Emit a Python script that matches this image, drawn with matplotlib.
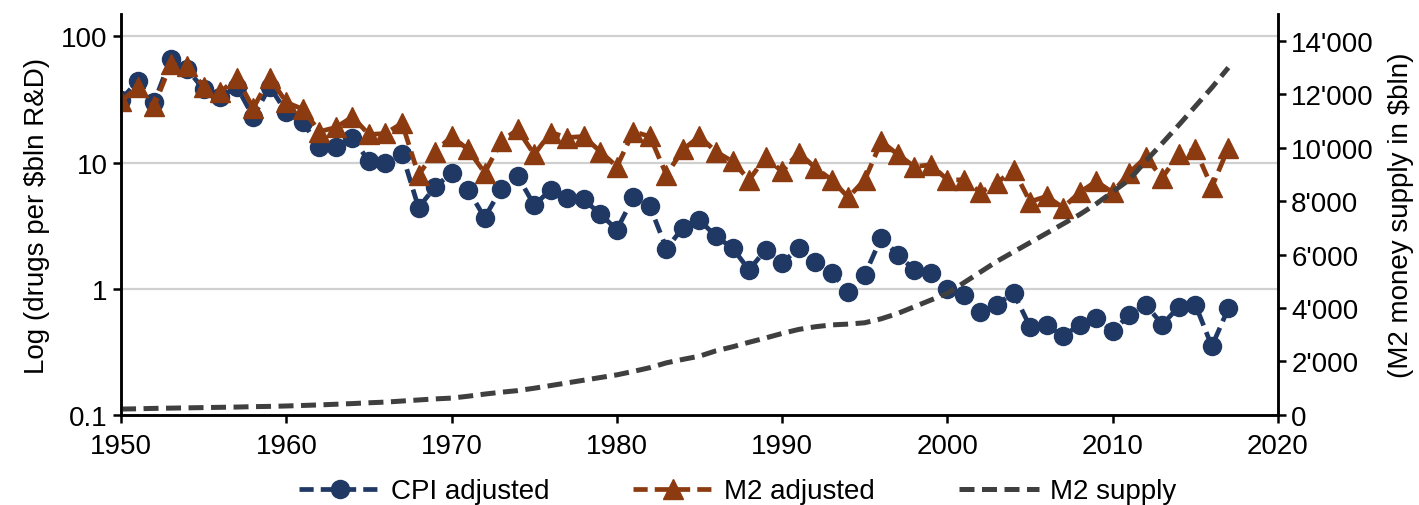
import matplotlib
matplotlib.use("Agg")
import matplotlib.pyplot as plt
from matplotlib.ticker import FuncFormatter, FixedLocator, NullLocator

plt.rcParams['font.family'] = ['Liberation Sans', 'DejaVu Sans']

years = list(range(1950, 2018))

cpi_adjusted = [31.6, 44, 30, 66, 55, 38, 33, 40, 23, 40,
                25, 21, 13.2, 13.4, 15.8, 10.2, 10, 11.8, 4.4, 6.4,
                8.3, 6.1, 3.66, 6.2, 7.8, 4.6, 6.1, 5.2, 5.1, 3.9,
                2.94, 5.3, 4.5, 2.08, 3.05, 3.5, 2.6, 2.1, 1.41, 2.04,
                1.6, 2.1, 1.64, 1.34, 0.95, 1.29, 2.54, 1.86, 1.41, 1.34,
                1.0, 0.9, 0.66, 0.75, 0.93, 0.5, 0.52, 0.42, 0.52, 0.59,
                0.46, 0.62, 0.75, 0.52, 0.72, 0.75, 0.35, 0.7]

m2_adjusted = [30.5, 40, 28, 60, 58, 40, 36, 47, 27, 47,
               30, 26.5, 17.6, 19, 23, 16.7, 17, 20.5, 8.0, 12.2,
               16.1, 12.7, 8.3, 14.7, 18.3, 11.6, 17.3, 15.8, 16.1, 12.2,
               9.3, 17.6, 16.1, 8.0, 12.7, 16.1, 12.2, 10.2, 7.3, 11,
               8.5, 12, 9.1, 7.3, 5.3, 7.3, 14.7, 11.6, 9.3, 9.6,
               7.3, 7.3, 5.8, 6.9, 8.8, 4.9, 5.4, 4.4, 5.8, 7.1,
               5.8, 8.3, 11, 7.6, 11.6, 12.7, 6.4, 13.1]

m2_supply = [220, 230, 245, 255, 265, 275, 285, 295, 310, 320,
             335, 355, 375, 400, 425, 455, 480, 520, 560, 600,
             630, 700, 780, 850, 910, 1000, 1100, 1200, 1300, 1400,
             1500, 1630, 1770, 1950, 2080, 2200, 2400, 2550, 2720, 2880,
             3050, 3200, 3300, 3370, 3400, 3450, 3600, 3800, 4050, 4300,
             4550, 4950, 5350, 5750, 6100, 6450, 6800, 7150, 7500, 7900,
             8350, 8800, 9500, 10170, 10850, 11550, 12250, 13000]

x_ticks = [1950, 1960, 1970, 1980, 1990, 2000, 2010, 2020]
left_ticks = [0.1, 1, 10, 100]
left_tick_labels = ['0.1', '1', '10', '100']
right_ticks = [0, 2000, 4000, 6000, 8000, 10000, 12000, 14000]

blue = '#1f3864'
brown = '#8c3a10'
grey = '#3f3f3f'
FS = 20

fig = plt.figure(figsize=(14.19, 5.06), dpi=100)
ax = fig.add_axes([0.0853, 0.178, 0.8153, 0.792])
ax2 = ax.twinx()

ax.set_yscale('log')
ax.set_ylim(0.1, 150)
ax.set_xlim(1950, 2020)
ax2.set_ylim(0, 15000)

ax.yaxis.set_major_locator(FixedLocator(left_ticks))
ax.yaxis.set_minor_locator(NullLocator())
ax.set_yticklabels(left_tick_labels)
ax.set_xticks(x_ticks)
ax2.set_yticks(right_ticks)
ax2.yaxis.set_major_formatter(FuncFormatter(lambda v, p: f"{int(v):,}".replace(',', "'")))

for yv in left_ticks[1:]:
    ax.axhline(yv, color='#d0d0d0', lw=1.6, zorder=0)

dash = (3, 1.5)
l1, = ax.plot(years, cpi_adjusted, color=blue, lw=3.4, ls=(0, dash), marker='o',
              markersize=13, markeredgecolor=blue, label='CPI adjusted', zorder=3)
l2, = ax.plot(years, m2_adjusted, color=brown, lw=3.4, ls=(0, dash), marker='^',
              markersize=14, markeredgecolor=brown, label='M2 adjusted', zorder=4)
l3, = ax2.plot(years, m2_supply, color=grey, lw=3.6, ls=(0, dash), label='M2 supply', zorder=2)

for a in (ax, ax2):
    a.spines['top'].set_visible(False)
    for s in ('left', 'right', 'bottom'):
        a.spines[s].set_linewidth(1.8)
        a.spines[s].set_color('black')
    a.tick_params(axis='both', labelsize=FS, width=1.8, length=6, colors='black')

ax.set_ylabel('Log (drugs per $bln R&D)', fontsize=FS, labelpad=8)
ax2.set_ylabel('(M2 money supply in $bln)', fontsize=FS, labelpad=10)
ax.tick_params(axis='x', pad=7)

fig.legend(handles=[l1, l2, l3], loc='center', bbox_to_anchor=(0.52, 0.027),
           ncol=3, frameon=False, fontsize=FS, handlelength=2.9,
           handletextpad=0.4, columnspacing=3.0)

fig.savefig('out.png', dpi=100)
